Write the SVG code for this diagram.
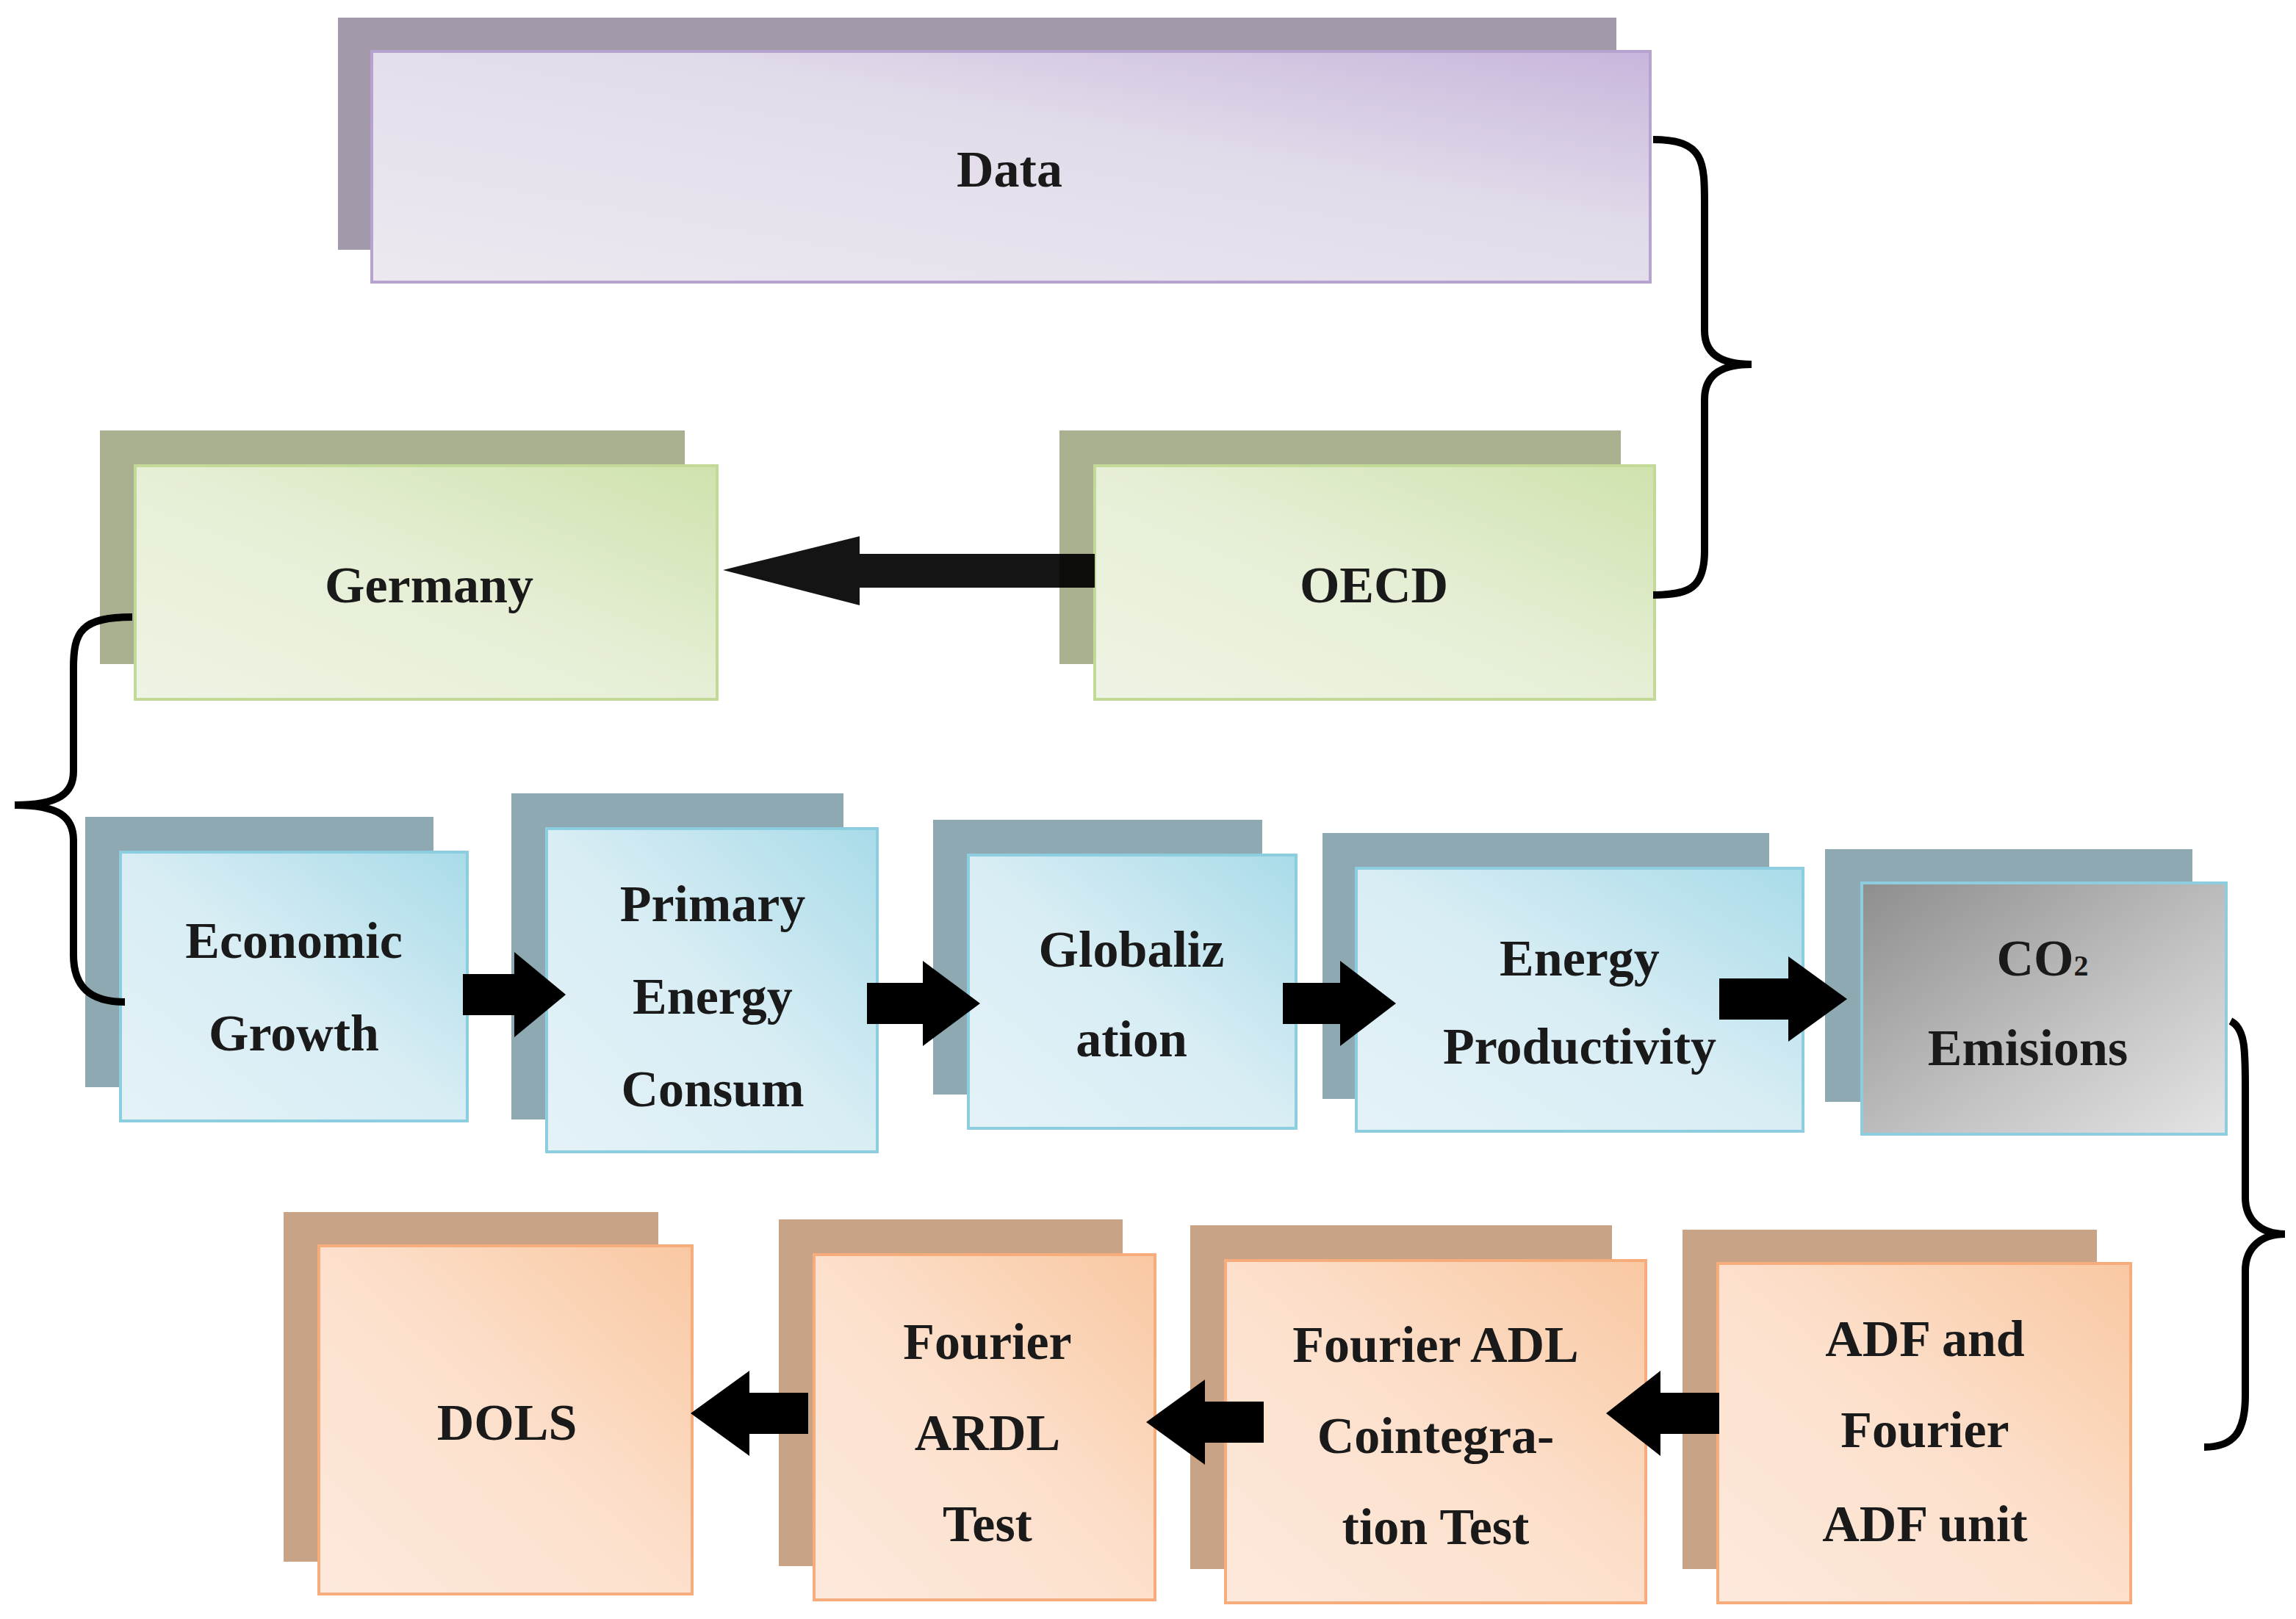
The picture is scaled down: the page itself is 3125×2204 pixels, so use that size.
<svg xmlns="http://www.w3.org/2000/svg" width="3125" height="2204" viewBox="0 0 3125 2204">
<defs>
<linearGradient id="gp" x1="1" y1="0" x2="0" y2="1"><stop offset="0" stop-color="#c7b6dc"/><stop offset="0.4" stop-color="#e2dcea"/><stop offset="1" stop-color="#ece9f0"/></linearGradient>
<linearGradient id="gg" x1="1" y1="0" x2="0" y2="1"><stop offset="0" stop-color="#cfe2ad"/><stop offset="0.5" stop-color="#e6efd6"/><stop offset="1" stop-color="#eef4e4"/></linearGradient>
<linearGradient id="gb" x1="1" y1="0" x2="0" y2="1"><stop offset="0" stop-color="#a9dbe9"/><stop offset="0.5" stop-color="#d8edf4"/><stop offset="1" stop-color="#e4f2f7"/></linearGradient>
<linearGradient id="gy" x1="0" y1="0" x2="1" y2="1"><stop offset="0" stop-color="#8e8e8e"/><stop offset="0.6" stop-color="#c4c4c4"/><stop offset="1" stop-color="#e4e4e4"/></linearGradient>
<linearGradient id="go" x1="1" y1="0" x2="0" y2="1"><stop offset="0" stop-color="#f9c8a2"/><stop offset="0.5" stop-color="#fce0cc"/><stop offset="1" stop-color="#fde9dc"/></linearGradient>
</defs>
<style>
text{font-family:"Liberation Serif","DejaVu Serif",serif;font-weight:bold;font-size:35px;fill:#1a1a1a;text-anchor:middle}
.sp{fill:#a29aaa}.sg{fill:#a8b090}.sb{fill:#8ea9b1}.so{fill:#c9a386}
.fp{fill:url(#gp);stroke:#b7a3d0;stroke-width:2}
.fg{fill:url(#gg);stroke:#c2d997;stroke-width:2}
.fb{fill:url(#gb);stroke:#8ccde0;stroke-width:2}
.fy{fill:url(#gy);stroke:#8ccde0;stroke-width:2}
.fo{fill:url(#go);stroke:#f6ad7b;stroke-width:2}
.br{fill:none;stroke:#000;stroke-width:5}
</style>
<rect width="3125" height="2204" fill="#fff"/>
<g transform="scale(2)">
<g id="data"><rect class="sp" x="230" y="12" width="870" height="158"/><rect class="fp" x="253" y="35" width="870" height="157"/><text x="687" y="127">Data</text></g>
<g id="germany"><rect class="sg" x="68" y="293" width="398" height="159"/><rect class="fg" x="92" y="317" width="396" height="159"/><text x="292" y="410">Germany</text></g>
<g id="oecd"><rect class="sg" x="721" y="293" width="382" height="159"/><rect class="fg" x="745" y="317" width="381" height="159"/><text x="935" y="410">OECD</text></g>
<g id="econ"><rect class="sb" x="58" y="556" width="237" height="184"/><rect class="fb" x="82" y="580" width="236" height="183"/><text x="200" y="652">Economic</text><text x="200" y="715">Growth</text></g>
<g id="primary"><rect class="sb" x="348" y="540" width="226" height="222"/><rect class="fb" x="372" y="564" width="225" height="220"/><text x="485" y="627">Primary</text><text x="485" y="690">Energy</text><text x="485" y="753">Consum</text></g>
<g id="glob"><rect class="sb" x="635" y="558" width="224" height="187"/><rect class="fb" x="659" y="582" width="223" height="186"/><text x="770" y="658">Globaliz</text><text x="770" y="719">ation</text></g>
<g id="enprod"><rect class="sb" x="900" y="567" width="304" height="181"/><rect class="fb" x="923" y="591" width="304" height="179"/><text x="1075" y="664">Energy</text><text x="1075" y="724">Productivity</text></g>
<g id="co2"><rect class="sb" x="1242" y="578" width="250" height="172"/><rect class="fy" x="1267" y="601" width="248" height="171"/><text x="1390" y="664">CO<tspan font-size="20">2</tspan></text><text x="1380" y="725">Emisions</text></g>
<g id="dols"><rect class="so" x="193" y="825" width="255" height="238"/><rect class="fo" x="217" y="848" width="254" height="237"/><text x="345" y="980">DOLS</text></g>
<g id="fardl"><rect class="so" x="530" y="830" width="234" height="236"/><rect class="fo" x="554" y="854" width="232" height="235"/><text x="672" y="925">Fourier</text><text x="672" y="987">ARDL</text><text x="672" y="1049">Test</text></g>
<g id="fadl"><rect class="so" x="810" y="834" width="287" height="234"/><rect class="fo" x="834" y="858" width="286" height="233"/><text x="977" y="927">Fourier ADL</text><text x="977" y="989">Cointegra-</text><text x="977" y="1051">tion Test</text></g>
<g id="adf"><rect class="so" x="1145" y="837" width="282" height="231"/><rect class="fo" x="1169" y="860" width="281" height="231"/><text x="1310" y="923">ADF and</text><text x="1310" y="985">Fourier</text><text x="1310" y="1049">ADF unit</text></g>
<g id="connectors">
<polygon points="745,377 585,377 585,365 492,388 585,412 585,400 745,400" fill="#000" opacity="0.92"/>
<polygon points="315,663 350,663 350,648 385,677 350,706 350,691 315,691"/>
<polygon points="590,669 628,669 628,654 667,683 628,712 628,697 590,697"/>
<polygon points="873,669 912,669 912,654 950,683 912,712 912,697 873,697"/>
<polygon points="1170,666 1217,666 1217,651 1257,680 1217,709 1217,694 1170,694"/>
<polygon points="1170,948 1130,948 1130,933 1093,962 1130,991 1130,976 1170,976"/>
<polygon points="860,954 820,954 820,939 780,968 820,997 820,982 860,982"/>
<polygon points="550,948 510,948 510,933 470,962 510,991 510,976 550,976"/>
<path class="br" d="M1125,95 C1160,95 1160,110 1160,140 L1160,225 C1160,240 1170,248 1192,248 C1170,248 1160,256 1160,272 L1160,375 C1160,400 1150,405 1125,405"/>
<path class="br" d="M90,420 C55,420 50,430 50,455 L50,525 C50,540 40,548 10,548 C40,548 50,556 50,572 L50,650 C50,675 65,682 85,682"/>
<path class="br" d="M1518,695 C1528,700 1528,715 1528,740 L1528,815 C1528,830 1538,840 1555,840 C1538,840 1528,850 1528,865 L1528,950 C1528,975 1520,985 1500,985"/>
</g>
</g>
</svg>
